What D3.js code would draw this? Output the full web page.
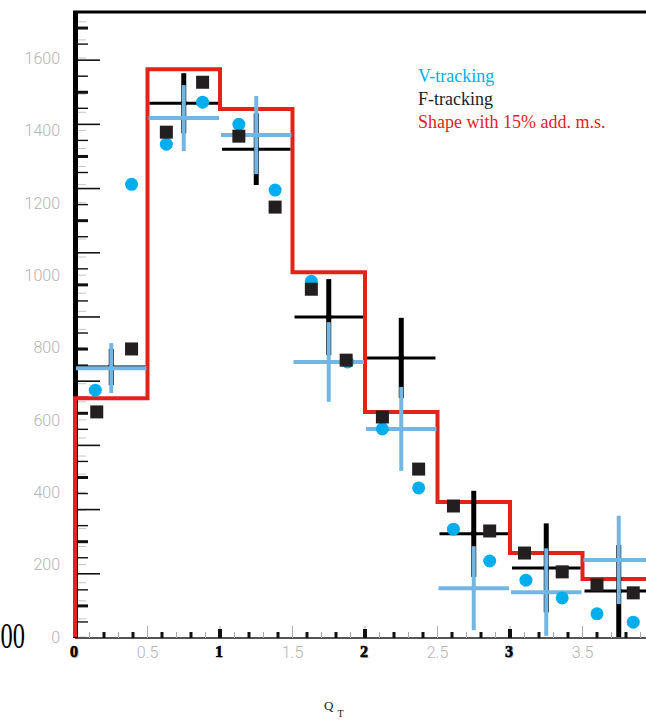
<!DOCTYPE html>
<html>
<head>
<meta charset="UTF-8" />
<title>V-tracking / F-tracking</title>
<script src="https://d3js.org/d3.v7.min.js"></script>
<style>
  body { margin: 0; background: #fff; }
  svg { display: block; }
  .glab { font-family: Roboto, "DejaVu Sans", sans-serif; font-weight: 300; font-size: 16px; fill: #b3b3b3; }
</style>
</head>
<body>
<div id="chart"></div>
<script>
// red shape histogram (bins of 0.5)
const shapeEdges = [0, 0.5, 1, 1.5, 2, 2.5, 3, 3.5, 4];
const shapeValues = [660, 1569, 1459, 1008, 622, 373, 232, 160];

// V-tracking points
const vX = [0.14, 0.39, 0.63, 0.88, 1.13, 1.38, 1.63, 1.88, 2.12, 2.37, 2.61, 2.86, 3.11, 3.36, 3.60, 3.85];
const vY = [682, 1251, 1362, 1478, 1417, 1235, 983, 760, 575, 412, 298, 210, 157, 108, 64, 41];

// F-tracking points
const fX = [0.15, 0.39, 0.63, 0.88, 1.13, 1.38, 1.63, 1.87, 2.12, 2.37, 2.61, 2.86, 3.10, 3.36, 3.60, 3.85];
const fY = [622, 796, 1395, 1533, 1384, 1188, 961, 765, 608, 464, 362, 293, 232, 180, 144, 122];

// binned crosses (0.5 wide bins)
const binCenters = [0.25, 0.75, 1.25, 1.75, 2.25, 2.75, 3.25, 3.75];
const fCross = [746, 1475, 1348, 884, 771, 285, 191, 127];
const fErr = [50, 83, 99, 105, 111, 119, 123, 127];
const vCross = [743, 1434, 1387, 760, 575, 135, 124, 213];
const vErr = [69, 91, 108, 110, 116, 116, 121, 122];

const yLabels = [0, 200, 400, 600, 800, 1000, 1200, 1400, 1600];
const xLabels = [0, 0.5, 1, 1.5, 2, 2.5, 3, 3.5, 4];
const legendItems = ['V-tracking', 'F-tracking', 'Shape with 15% add. m.s.'];

const W = 646, H = 720;
const SERIF = '"Liberation Serif", "Times New Roman", serif';
const cCyan = '#00aeef', cLight = '#74b6e3', cRed = '#e2231a', cDark = '#231f20';

const svg = d3.select('#chart').append('svg').attr('width', W).attr('height', H);

const x = d3.scaleLinear().domain([0, 4]).range([75, 655]);
const y = d3.scaleLinear().domain([0, 1600]).range([637, 58]);
const yf = d3.scaleLinear().domain([0, 39]).range([638, 12]); // frame tick scale

// grey y ticks and labels
svg.append('g').selectAll('line').data(d3.range(0, 1701, 50)).join('line')
  .attr('x1', 78).attr('x2', 86).attr('y1', d => y(d)).attr('y2', d => y(d))
  .attr('stroke', '#c4c4c4').attr('stroke-width', 1);
svg.append('g').selectAll('text').data(yLabels).join('text')
  .attr('class', 'glab').attr('x', 60).attr('y', d => y(d)).attr('dy', '0.36em')
  .attr('text-anchor', 'end').text(d => d);

// black y frame ticks
svg.append('g').selectAll('line').data(d3.range(1, 40)).join('line')
  .attr('x1', 78).attr('x2', d => d % 4 === 0 ? 100 : 88)
  .attr('y1', d => yf(d)).attr('y2', d => yf(d))
  .attr('stroke', '#111')
  .attr('stroke-width', d => d % 4 === 2 ? 3 : (d % 4 === 0 ? 1.6 : 1.4));

// x axis line
svg.append('line').attr('x1', 75).attr('x2', W).attr('y1', 638).attr('y2', 638)
  .attr('stroke', '#555').attr('stroke-width', 2);

// grey x ticks every 0.1
svg.append('g').selectAll('line').data(d3.range(1, 41)).join('line')
  .attr('x1', d => x(d / 10)).attr('x2', d => x(d / 10))
  .attr('y1', 638).attr('y2', d => d % 5 === 0 ? 626 : 632)
  .attr('stroke', '#aaa').attr('stroke-width', 1);

// black x ticks every 0.2
svg.append('g').selectAll('line').data(d3.range(1, 21)).join('line')
  .attr('x1', d => x(d / 5)).attr('x2', d => x(d / 5))
  .attr('y1', 638).attr('y2', d => d % 5 === 0 ? 629 : 632)
  .attr('stroke', '#111').attr('stroke-width', d => d % 5 === 0 ? 4 : 3);

// x labels (grey, with a bold black overprint at the integers)
svg.append('g').selectAll('text').data(xLabels).join('text')
  .attr('class', 'glab').attr('x', d => x(d)).attr('y', 658)
  .attr('text-anchor', 'middle').text(d => d);
svg.append('g').selectAll('text').data([0, 1, 2, 3]).join('text')
  .attr('font-family', SERIF).attr('x', d => x(d) - 1).attr('y', 657)
  .attr('text-anchor', 'middle').attr('font-size', 16).attr('font-weight', 'bold')
  .attr('fill', '#000').attr('stroke', '#000').attr('stroke-width', 0.6).text(d => d);

// frame: left axis and top border
svg.append('line').attr('x1', 75.5).attr('x2', 75.5).attr('y1', 11).attr('y2', 638)
  .attr('stroke', '#000').attr('stroke-width', 5);
svg.append('line').attr('x1', 73).attr('x2', W).attr('y1', 12).attr('y2', 12)
  .attr('stroke', '#000').attr('stroke-width', 3);

// red histogram
const stepPts = [[shapeEdges[0], 0]];
shapeValues.forEach((v, i) => {
  stepPts.push([shapeEdges[i], v]);
  stepPts.push([shapeEdges[i + 1], v]);
});
stepPts.push([4.2, shapeValues[shapeValues.length - 1]]);
svg.append('path')
  .attr('d', d3.line().x(d => x(d[0])).y(d => y(d[1]))(stepPts))
  .attr('fill', 'none').attr('stroke', cRed).attr('stroke-width', 4)
  .attr('stroke-linejoin', 'miter');

// F-tracking crosses (black)
const fc = svg.append('g');
binCenters.forEach((c, i) => {
  fc.append('line').attr('x1', x(c - 0.25) + 2).attr('x2', x(c + 0.25) - 2)
    .attr('y1', y(fCross[i])).attr('y2', y(fCross[i]))
    .attr('stroke', '#000').attr('stroke-width', 3);
  fc.append('line').attr('x1', x(c)).attr('x2', x(c))
    .attr('y1', y(fCross[i] + fErr[i])).attr('y2', Math.min(637, y(fCross[i] - fErr[i])))
    .attr('stroke', '#000').attr('stroke-width', 5);
  fc.append('circle').attr('cx', x(c)).attr('cy', y(fCross[i])).attr('r', 3).attr('fill', '#000');
});

// V-tracking crosses (light blue)
const vc = svg.append('g');
binCenters.forEach((c, i) => {
  vc.append('line').attr('x1', x(c - 0.25) + 1).attr('x2', x(c + 0.25) - 1)
    .attr('y1', y(vCross[i])).attr('y2', y(vCross[i]))
    .attr('stroke', cLight).attr('stroke-width', 4);
  vc.append('line').attr('x1', x(c)).attr('x2', x(c))
    .attr('y1', y(vCross[i] + vErr[i])).attr('y2', y(vCross[i] - vErr[i]))
    .attr('stroke', cLight).attr('stroke-width', 4);
});

// V-tracking circles
svg.append('g').selectAll('circle').data(vX).join('circle')
  .attr('cx', d => x(d)).attr('cy', (d, i) => y(vY[i])).attr('r', 6.5)
  .attr('fill', cCyan);

// F-tracking squares
svg.append('g').selectAll('rect').data(fX).join('rect')
  .attr('x', d => x(d) - 6.5).attr('y', (d, i) => y(fY[i]) - 6.5)
  .attr('width', 13).attr('height', 13).attr('fill', cDark);

// legend
const legColors = [cCyan, '#222', cRed];
svg.append('g').selectAll('text').data(legendItems).join('text')
  .attr('font-family', SERIF).attr('x', 418).attr('y', (d, i) => 82 + i * 23)
  .attr('font-size', 18).attr('fill', (d, i) => legColors[i]).text(d => d);

// leftover large label at the left edge
svg.append('text').attr('font-family', SERIF)
  .attr('transform', 'translate(25,648) scale(0.68,1)')
  .attr('text-anchor', 'end').attr('font-size', 36).attr('fill', '#000').text('00');

// x title
const xt = svg.append('text').attr('font-family', SERIF).attr('x', 324).attr('y', 710)
  .attr('font-size', 13).attr('fill', '#222');
xt.append('tspan').text('Q');
xt.append('tspan').attr('dx', 4).attr('dy', 7).attr('font-size', 10).text('T');
</script>
</body>
</html>
